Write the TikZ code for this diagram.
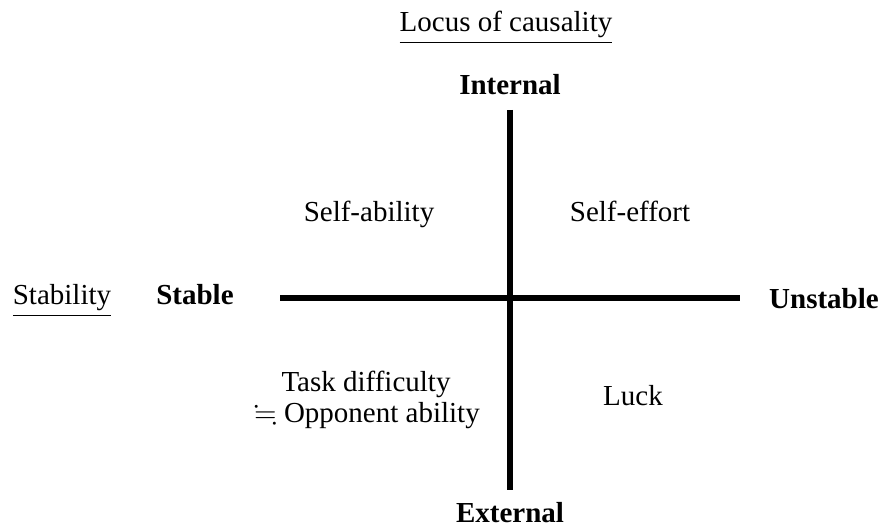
\documentclass[tikz,border=0pt]{standalone}
\usepackage{amssymb}
\usepackage{fontspec}
\setmainfont{Liberation Serif}
\begin{document}
\begin{tikzpicture}[font=\fontsize{14.5}{17}\selectfont, x=0.5pt, y=-0.5pt, inner sep=0pt, anchor=base]

\useasboundingbox (0,0) rectangle (891,529);

\node (locus) at (506,32) {\underline{Locus of causality}};
\node (stab) at (62,305) {\underline{Stability}};

\node[font=\fontsize{14.5}{17}\selectfont\bfseries] (int) at (510,95) {Internal};
\node[font=\fontsize{14.5}{17}\selectfont\bfseries] (ext) at (510,523) {External};
\node[font=\fontsize{14.5}{17}\selectfont\bfseries] (stable) at (195,305) {Stable};
\node[font=\fontsize{14.5}{17}\selectfont\bfseries] (unstable) at (824,309) {Unstable};

\node (a1) at (369,222) {Self-ability};
\node (a2) at (630,222) {Self-effort};
\node (a3) at (366,392) {Task difficulty};
\node (a4) at (367,423) {$\fallingdotseq$ Opponent ability};
\node (a5) at (633,406) {Luck};

\coordinate (top) at (510,110);
\coordinate (bot) at (510,490);
\coordinate (left) at (280,298);
\coordinate (right) at (740,298);

\draw[line width=3pt] (top)--(bot);
\draw[line width=3pt] (left)--(right);

\end{tikzpicture}
\end{document}
